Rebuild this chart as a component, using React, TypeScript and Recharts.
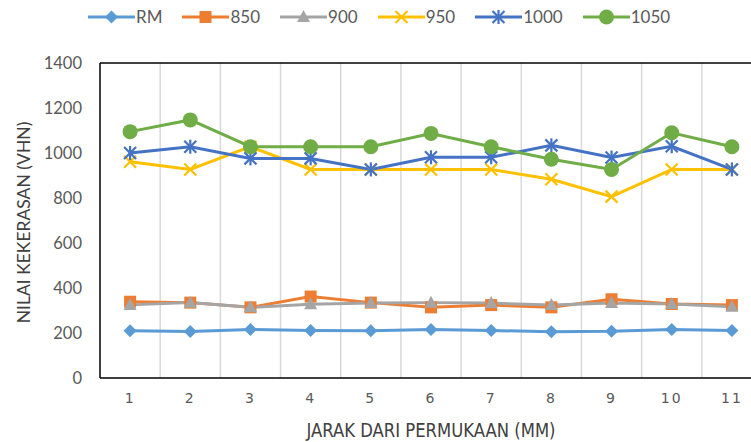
import React from 'react';
import { LineChart, Line, XAxis, YAxis, ReferenceLine } from 'recharts';

const distances = [1, 2, 3, 4, 5, 6, 7, 8, 9, 10, 11];
const rm = [210, 207, 216, 211, 210, 216, 211, 206, 208, 216, 211];
const s850 = [339, 335, 314, 362, 335, 314, 324, 314, 350, 329, 324];
const s900 = [325, 335, 314, 328, 333, 335, 333, 324, 333, 329, 317];
const s950 = [961, 927, 1028, 927, 927, 927, 927, 883, 806, 927, 927];
const s1000 = [1000, 1028, 976, 976, 927, 981, 981, 1034, 980, 1030, 927];
const s1050 = [1095, 1147, 1028, 1028, 1028, 1087, 1028, 972, 927, 1090, 1028];
const yTicks = [0, 200, 400, 600, 800, 1000, 1200, 1400];
const seriesNames = ['RM', '850', '900', '950', '1000', '1050'];
const yTitle = 'NILAI KEKERASAN (VHN)';
const xTitle = 'JARAK DARI PERMUKAAN (MM)';

const data = distances.map((d, i) => ({
  x: d,
  RM: rm[i],
  '850': s850[i],
  '900': s900[i],
  '950': s950[i],
  '1000': s1000[i],
  '1050': s1050[i],
}));

const FONT = "Lato, 'Open Sans', sans-serif";
const colors: Record<string, string> = {
  RM: '#5B9BD5',
  '850': '#ED7D31',
  '900': '#A5A5A5',
  '950': '#FFC000',
  '1000': '#4472C4',
  '1050': '#70AD47',
};
const shapes: Record<string, string> = {
  RM: 'diamond',
  '850': 'square',
  '900': 'triangle',
  '950': 'x',
  '1000': 'star',
  '1050': 'circle',
};

function marker(shape: string, color: string, cx: number, cy: number, key?: any) {
  switch (shape) {
    case 'diamond':
      return <polygon key={key} points={`${cx},${cy - 6.5} ${cx + 6.5},${cy} ${cx},${cy + 6.5} ${cx - 6.5},${cy}`} fill={color} />;
    case 'square':
      return <rect key={key} x={cx - 6} y={cy - 6} width={12} height={12} fill={color} />;
    case 'triangle':
      return <polygon key={key} points={`${cx},${cy - 7} ${cx + 6.5},${cy + 5} ${cx - 6.5},${cy + 5}`} fill={color} />;
    case 'x':
      return (
        <g key={key} stroke={color} strokeWidth={2.2}>
          <line x1={cx - 6} y1={cy - 6} x2={cx + 6} y2={cy + 6} />
          <line x1={cx - 6} y1={cy + 6} x2={cx + 6} y2={cy - 6} />
        </g>
      );
    case 'star':
      return (
        <g key={key} stroke={color} strokeWidth={2.2}>
          <line x1={cx - 6} y1={cy - 6} x2={cx + 6} y2={cy + 6} />
          <line x1={cx - 6} y1={cy + 6} x2={cx + 6} y2={cy - 6} />
          <line x1={cx} y1={cy - 7} x2={cx} y2={cy + 7} />
        </g>
      );
    default:
      return <circle key={key} cx={cx} cy={cy} r={7.5} fill={color} />;
  }
}

const Legendbar = () => (
  <div
    style={{
      position: 'absolute',
      top: 7,
      left: 88,
      display: 'flex',
      alignItems: 'center',
      fontFamily: FONT,
      fontSize: 17,
      color: '#595959',
    }}
  >
    {seriesNames.map((n) => (
      <div key={n} style={{ display: 'flex', alignItems: 'center', marginRight: 20 }}>
        <svg width={47} height={20}>
          <line x1={0} y1={10} x2={47} y2={10} stroke={colors[n]} strokeWidth={3} />
          {marker(shapes[n], colors[n], 23.5, 10)}
        </svg>
        <span style={{ marginLeft: 1, lineHeight: '20px' }}>{n}</span>
      </div>
    ))}
  </div>
);

export default function App() {
  const boundaries = distances.slice(0, -1).map((d) => d + 0.5);
  return (
    <div
      style={{
        position: 'absolute',
        left: 0,
        top: 0,
        width: 751,
        height: 442,
        overflow: 'hidden',
        background: '#fff',
      }}
    >
      <LineChart
        width={780}
        height={442}
        data={data}
        margin={{ top: 63, right: 18, left: 0, bottom: 0 }}
      >
        <XAxis
          dataKey="x"
          type="number"
          domain={[0.5, 11.5]}
          ticks={distances}
          allowDataOverflow
          height={64}
          tickSize={0}
          tickMargin={15}
          axisLine={{ stroke: '#000', strokeWidth: 1.5 }}
          tick={{ fill: '#595959', fontSize: 14, fontFamily: "'DejaVu Sans', sans-serif", letterSpacing: 2 }}
          label={{
            content: (p: any) => {
              const vb = p.viewBox;
              return (
                <text
                  x={vb.x + vb.width / 2}
                  y={vb.y + 52}
                  textAnchor="middle"
                  dominantBaseline="central"
                  fontFamily="'Liberation Sans Narrow', 'DejaVu Sans Condensed', sans-serif"
                  fontSize={19}
                  fill="#404040"
                  textLength={249}
                  lengthAdjust="spacingAndGlyphs"
                >
                  {xTitle}
                </text>
              );
            },
          }}
        />
        <YAxis
          domain={[0, 1400]}
          ticks={yTicks}
          width={100}
          tickSize={0}
          tickMargin={18}
          axisLine={{ stroke: '#000', strokeWidth: 1.5 }}
          tick={{ fill: '#595959', fontSize: 16.5, fontFamily: FONT }}
          label={{
            content: (p: any) => {
              const vb = p.viewBox;
              const cx = vb.x + 23;
              const cy = vb.y + vb.height / 2 + 2;
              return (
                <text
                  x={cx}
                  y={cy}
                  transform={`rotate(-90, ${cx}, ${cy})`}
                  textAnchor="middle"
                  dominantBaseline="central"
                  fontFamily={FONT}
                  fontSize={17.5}
                  fill="#404040"
                >
                  {yTitle}
                </text>
              );
            },
          }}
        />
        {boundaries.map((b) => (
          <ReferenceLine key={b} x={b} stroke="#d9d9d9" strokeWidth={1.5} />
        ))}
        <ReferenceLine y={1400} stroke="#000" strokeWidth={1.5} />
        <ReferenceLine x={11.5} stroke="#000" strokeWidth={1.5} />
        {seriesNames.map((n) => (
          <Line
            key={n}
            dataKey={n}
            stroke={colors[n]}
            strokeWidth={3}
            isAnimationActive={false}
            dot={(p: any) => marker(shapes[n], colors[n], p.cx, p.cy, `${n}-${p.index}`)}
            activeDot={false}
          />
        ))}
      </LineChart>
      <Legendbar />
    </div>
  );
}
